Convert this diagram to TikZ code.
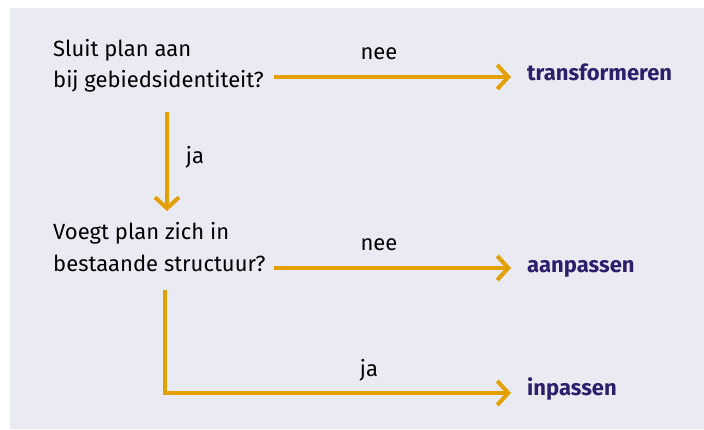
\documentclass[tikz,border=0pt]{standalone}
\usepackage{fontspec}
\setmainfont{Fira Sans}
\usetikzlibrary{arrows.meta}
\definecolor{bgcol}{HTML}{EAEAF3}
\definecolor{arrcol}{HTML}{E3A000}
\definecolor{purcol}{HTML}{2D1E6B}
\begin{document}
\begin{tikzpicture}[x=1pt,y=-1pt,
  txt/.style={font=\fontsize{22}{26}\selectfont, inner sep=0pt, anchor=base west, text=black},
  lbl/.style={font=\fontsize{22}{26}\selectfont, inner sep=0pt, anchor=base, text=black},
  res/.style={font=\fontsize{22}{26}\selectfont\bfseries, inner sep=0pt, anchor=base west, text=purcol},
  flow/.style={draw=arrcol, line width=4pt, line join=miter,
    -{Straight Barb[length=11pt,width=24pt]}}]
\useasboundingbox (0,0) rectangle (704,429);
\fill[bgcol] (10,8) rectangle (704,429);
% questions
\node[txt] (q1a) at (53,56) {Sluit plan aan};
\node[txt] (q1b) at (53,87) {bij gebiedsidentiteit?};
\node[txt] (q2a) at (53,239) {Voegt plan zich in};
\node[txt] (q2b) at (53,271) {bestaande structuur?};
% results
\node[res] (r1) at (527,80) {transformeren};
\node[res] (r2) at (527,272) {aanpassen};
\node[res] (r3) at (527,395) {inpassen};
% labels
\node[lbl] (n1) at (379,59) {nee};
\node[lbl] (n2) at (379,250) {nee};
\node[lbl] (j1) at (195,163) {ja};
\node[lbl] (j2) at (369,376) {ja};
% connector ends
\coordinate (a1s) at (274,77);
\coordinate (a1e) at (511,77);
\coordinate (v1s) at (167,112);
\coordinate (v1e) at (167,211);
\coordinate (a2s) at (274,268);
\coordinate (a2e) at (511,268);
\coordinate (v2s) at (165,290);
\coordinate (a3e) at (511,393);
\draw[flow] (a1s) -- (a1e);
\draw[flow] (v1s) -- (v1e);
\draw[flow] (a2s) -- (a2e);
\draw[flow] (v2s) |- (a3e);
\end{tikzpicture}
\end{document}
